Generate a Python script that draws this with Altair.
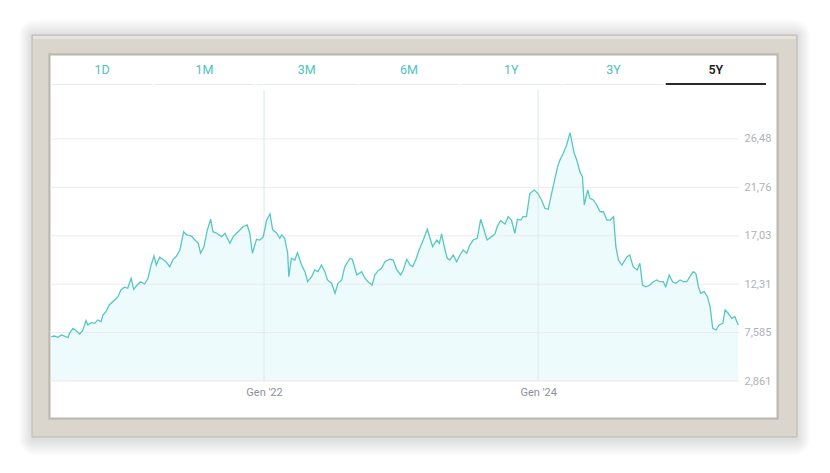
import altair as alt
import pandas as pd

# ---------------- data ----------------
DATES = [
    "2020-06-13", "2020-06-22", "2020-07-01", "2020-07-10", "2020-07-19", "2020-07-28", "2020-08-01", "2020-08-10", "2020-08-19", "2020-08-28",
    "2020-09-05", "2020-09-14", "2020-09-19", "2020-09-28", "2020-10-07", "2020-10-15", "2020-10-24", "2020-10-29", "2020-11-06", "2020-11-15",
    "2020-11-29", "2020-12-08", "2020-12-16", "2020-12-25", "2021-01-03", "2021-01-12", "2021-01-19", "2021-01-28", "2021-02-06", "2021-02-17",
    "2021-02-26", "2021-03-05", "2021-03-14", "2021-03-20", "2021-03-29", "2021-04-06", "2021-04-15", "2021-04-25", "2021-05-04", "2021-05-13",
    "2021-05-22", "2021-06-01", "2021-06-09", "2021-06-22", "2021-07-01", "2021-07-10", "2021-07-16", "2021-07-25", "2021-08-03", "2021-08-12",
    "2021-08-18", "2021-08-28", "2021-09-10", "2021-09-19", "2021-10-02", "2021-10-11", "2021-10-24", "2021-11-06", "2021-11-17", "2021-11-24",
    "2021-12-01", "2021-12-12", "2021-12-21", "2021-12-30", "2022-01-08", "2022-01-17", "2022-01-24", "2022-02-03", "2022-02-12", "2022-02-17",
    "2022-02-25", "2022-03-05", "2022-03-08", "2022-03-15", "2022-03-24", "2022-03-31", "2022-04-11", "2022-04-20", "2022-04-27", "2022-05-08",
    "2022-05-16", "2022-05-25", "2022-06-03", "2022-06-12", "2022-06-19", "2022-06-30", "2022-07-09", "2022-07-17", "2022-07-27", "2022-08-04",
    "2022-08-18", "2022-08-24", "2022-09-05", "2022-09-18", "2022-09-27", "2022-10-05", "2022-10-16", "2022-10-23", "2022-11-01", "2022-11-10",
    "2022-11-19", "2022-12-02", "2022-12-11", "2022-12-20", "2022-12-31", "2023-01-07", "2023-01-16", "2023-01-25", "2023-02-01", "2023-02-09",
    "2023-02-18", "2023-03-01", "2023-03-12", "2023-03-19", "2023-03-26", "2023-04-06", "2023-04-13", "2023-04-19", "2023-04-25", "2023-05-04",
    "2023-05-11", "2023-05-20", "2023-05-29", "2023-06-07", "2023-06-15", "2023-06-25", "2023-07-03", "2023-07-12", "2023-07-23", "2023-08-01",
    "2023-08-10", "2023-08-18", "2023-08-30", "2023-09-08", "2023-09-14", "2023-09-23", "2023-10-05", "2023-10-13", "2023-10-22", "2023-10-31",
    "2023-11-07", "2023-11-16", "2023-11-22", "2023-12-01", "2023-12-10", "2023-12-22", "2023-12-31", "2024-01-10", "2024-01-19", "2024-01-28",
    "2024-02-06", "2024-02-15", "2024-02-22", "2024-02-28", "2024-03-08", "2024-03-17", "2024-03-26", "2024-03-30", "2024-04-06", "2024-04-13",
    "2024-04-21", "2024-04-28", "2024-05-03", "2024-05-12", "2024-05-18", "2024-05-27", "2024-06-05", "2024-06-14", "2024-06-23", "2024-07-02",
    "2024-07-11", "2024-07-20", "2024-07-26", "2024-08-02", "2024-08-11", "2024-08-25", "2024-09-01", "2024-09-10", "2024-09-21", "2024-09-28",
    "2024-10-05", "2024-10-14", "2024-10-25", "2024-11-03", "2024-11-12", "2024-11-20", "2024-11-29", "2024-12-06", "2024-12-15", "2024-12-24",
    "2025-01-02", "2025-01-13", "2025-01-22", "2025-01-31", "2025-02-08", "2025-02-17", "2025-02-24", "2025-03-03", "2025-03-09", "2025-03-18",
    "2025-03-27", "2025-04-03", "2025-04-10", "2025-04-19", "2025-04-27", "2025-05-07", "2025-05-13", "2025-05-21", "2025-05-31", "2025-06-08",
    "2025-06-17",
]

VALUES = [
    7.19, 7.25, 7.13, 7.35, 7.25, 7.09, 7.52, 8.00, 7.77, 7.45,
    7.77, 8.75, 8.33, 8.55, 8.49, 8.82, 8.65, 9.30, 9.63, 10.28,
    10.77, 11.09, 11.74, 12.01, 11.91, 12.88, 11.81, 12.23, 12.55, 12.33,
    12.88, 14.02, 15.06, 14.18, 14.93, 14.74, 14.50, 14.02, 14.74, 15.06,
    15.65, 17.43, 17.11, 17.01, 16.62, 16.30, 15.33, 15.97, 17.60, 18.64,
    17.43, 17.28, 16.95, 17.28, 16.30, 16.95, 17.43, 17.92, 18.09, 17.28,
    15.33, 16.69, 16.62, 16.95, 18.57, 19.16, 17.60, 17.34, 16.79, 17.11,
    16.79, 15.33, 13.04, 14.84, 14.67, 15.38, 14.18, 13.53, 12.55, 13.04,
    13.70, 13.53, 14.18, 13.53, 12.72, 12.40, 11.42, 12.40, 12.72, 14.02,
    14.84, 14.74, 13.21, 13.53, 12.88, 12.55, 12.23, 13.21, 13.63, 13.86,
    14.50, 14.74, 14.67, 13.76, 13.21, 13.70, 14.74, 14.18, 14.02, 14.67,
    15.65, 16.62, 17.67, 16.79, 15.97, 16.62, 16.30, 17.21, 16.13, 14.84,
    14.67, 15.16, 14.50, 15.16, 15.65, 15.33, 16.13, 16.62, 16.79, 18.64,
    17.60, 16.62, 16.95, 17.21, 17.92, 18.51, 18.18, 18.90, 18.57, 17.28,
    18.64, 18.57, 18.90, 18.90, 21.18, 21.50, 21.18, 20.53, 19.72, 19.62,
    21.18, 22.65, 23.78, 24.43, 25.08, 25.89, 27.10, 26.38, 25.08, 24.43,
    23.29, 22.80, 20.04, 21.50, 20.69, 20.53, 20.04, 19.38, 19.38, 18.57,
    18.57, 18.90, 15.97, 14.67, 14.18, 15.00, 15.16, 14.02, 13.70, 14.35,
    12.23, 12.06, 12.23, 12.55, 12.72, 12.55, 12.55, 12.06, 13.21, 12.55,
    12.40, 12.72, 12.55, 12.55, 13.04, 13.53, 13.37, 12.06, 11.42, 11.58,
    11.09, 10.11, 8.00, 7.84, 8.33, 8.49, 9.79, 9.47, 8.98, 9.14,
    8.33,
]

Y_TICKS = [2.861, 7.585, 12.31, 17.03, 21.76, 26.48]
Y_TOP = 31.26
X_START = (2020, 6, 10)
X_END = (2025, 6, 19)
X_LABEL_YEARS = [2022, 2024]
TABS = ["1D", "1M", "3M", "6M", "1Y", "3Y", "5Y"]
ACTIVE_TAB = "5Y"

# ---------------- layout / style ----------------
W, H = 689, 291
LINE_COLOR = "#56c7c3"
FILL_COLOR = "#edfbfc"
TAB_COLOR = "#4cc3bf"
FRAME_COLOR = "#dad6ce"
FONT = "Roboto"

df = pd.DataFrame({"date": DATES, "value": VALUES})
tabs_df = pd.DataFrame({"tab": TABS})
yticks_df = pd.DataFrame({"value": Y_TICKS})
xticks_df = pd.DataFrame({"date": [f"{y}-01-01" for y in X_LABEL_YEARS]})
one = alt.Data(values=[{"k": 1}])


def dt(t):
    return alt.DateTime(year=t[0], month=t[1], date=t[2], utc=True)


x_scale = alt.Scale(domain=[dt(X_START), dt(X_END)])
y_scale = alt.Scale(domain=[Y_TICKS[0], Y_TOP], nice=False, zero=False)

x_axis = alt.Axis(
    values=[dt((y, 1, 1)) for y in X_LABEL_YEARS],
    labelExpr='"Gen \'" + utcFormat(datum.value, "%y")',
    grid=False, domain=False, ticks=False, tickSize=0, labelPadding=5,
    labelColor="#8d9298", labelFontSize=11, labelFont=FONT, title=None,
    zindex=1,
)
y_axis = alt.Axis(
    orient="right", values=Y_TICKS,
    labelExpr="replace(toString(datum.value), '.', ',')",
    grid=False, domain=False, ticks=False, tickSize=0, labelPadding=5,
    labelColor="#aeb2b7", labelFontSize=11, labelFont=FONT, title=None,
    zindex=1,
)

area = alt.Chart(df).mark_area(color=FILL_COLOR).encode(
    x=alt.X("date:T", scale=x_scale, axis=x_axis),
    y=alt.Y("value:Q", scale=y_scale, axis=y_axis),
    y2=alt.datum(Y_TICKS[0]),
)
hgrid = alt.Chart(yticks_df).mark_rule(color="#ebebeb", strokeWidth=1).encode(
    y=alt.Y("value:Q", scale=y_scale), x=alt.value(0), x2=alt.value(W))
vgrid = alt.Chart(xticks_df).mark_rule(color="#dde8eb", strokeWidth=1).encode(
    x=alt.X("date:T", scale=x_scale), y=alt.value(0), y2=alt.value(H))
line = alt.Chart(df).mark_line(color=LINE_COLOR, strokeWidth=1.3).encode(
    x=alt.X("date:T", scale=x_scale),
    y=alt.Y("value:Q", scale=y_scale),
)
plot = alt.layer(area, hgrid, vgrid, line)


def box(x1, x2, y1, y2, **kw):
    return alt.Chart(one).mark_rect(**kw).encode(
        x=alt.value(x1), x2=alt.value(x2), y=alt.value(y1), y2=alt.value(y2)
    )


# frame geometry relative to plot origin
FX1, FX2, FY1, FY2 = -18, 747, -55, 347
IX1, IX2, IY1, IY2 = 0, 727, -35, 328

shadows = []
for i in range(1, 9):
    s = i * 2.0
    shadows.append(box(FX1 - s * 0.8, FX2 + s * 0.8, FY1 - s + 1, FY2 + s + 2,
                       color="black", opacity=0.016, cornerRadius=s))

frame = box(FX1, FX2, FY1, FY2, color=FRAME_COLOR, stroke="#bcb8b0", strokeWidth=1)
frame_top = box(FX1 + 1, FX2 - 1, FY1 + 1, FY1 + 4, color="#e6e3dd")
inner_shadow = box(IX1 - 2, IX2 + 2, IY1 - 2, IY2 + 2, color="#c6c2ba")
inner = box(IX1, IX2, IY1, IY2, color="white", stroke="#aaa69f", strokeWidth=0.8)

# tabs
tab_x = alt.X("tab:N", sort=TABS,
              scale=alt.Scale(type="band", domain=TABS, range=[2, 716],
                              paddingInner=0.02, paddingOuter=0),
              axis=None)
tab_lines = alt.Chart(tabs_df).mark_rect(color="#e5ecef").encode(
    x=tab_x, y=alt.value(-6), y2=alt.value(-5))
active_line = alt.Chart(tabs_df).transform_filter(
    alt.datum.tab == ACTIVE_TAB).mark_rect(color="#2a2a2a").encode(
    x=tab_x, y=alt.value(-7), y2=alt.value(-5))
tab_text = alt.Chart(tabs_df).transform_filter(
    alt.datum.tab != ACTIVE_TAB).mark_text(
    font=FONT, fontSize=12.5, color=TAB_COLOR, baseline="middle").encode(
    x=tab_x, y=alt.value(-20), text="tab:N")
active_text = alt.Chart(tabs_df).transform_filter(
    alt.datum.tab == ACTIVE_TAB).mark_text(
    font=FONT, fontSize=12.5, color="#222222", fontWeight=600,
    baseline="middle").encode(
    x=tab_x, y=alt.value(-20), text="tab:N")
tabs = alt.layer(tab_lines, active_line, tab_text, active_text)

chart = alt.layer(
    *shadows, frame, frame_top, inner_shadow, inner, plot, tabs
).resolve_scale(x="independent").properties(
    width=W, height=H,
    padding={"left": 42, "top": 82, "right": 82, "bottom": 82},
    autosize=alt.AutoSizeParams(type="none"),
).configure_view(stroke=None).configure(background="white")

chart.save("out.html", embed_options={"renderer": "svg", "actions": False})
